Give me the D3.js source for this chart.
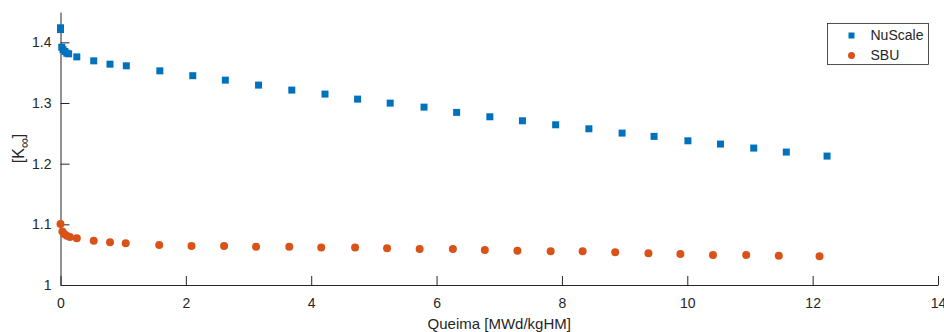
<!DOCTYPE html>
<html>
<head>
<meta charset="utf-8">
<script src="https://cdn.jsdelivr.net/npm/d3@7"></script>
<style>
    body { margin: 0; background: #fff; }
    svg { display: block; font-family: "Liberation Sans", Arial, sans-serif; }
</style>
</head>
<body>
<div id="chart"></div>
<script>
    // burnup [MWd/kgHM] and k-infinity for each model
    var nuscaleBurnup = [0, 0, 0.02, 0.04, 0.07, 0.10, 0.13, 0.26, 0.53, 0.79, 1.05, 1.585, 2.11, 2.63, 3.16, 3.69,
        4.22, 4.74, 5.26, 5.80, 6.32, 6.85, 7.37, 7.90, 8.43, 8.96, 9.47, 10.01, 10.53, 11.06, 11.58, 12.23];
    var nuscaleKinf = [1.424, 1.421, 1.392, 1.388, 1.385, 1.382, 1.381, 1.376, 1.3695, 1.364, 1.3613, 1.353, 1.345, 1.3377, 1.3295, 1.3213,
        1.3147, 1.3064, 1.2998, 1.2932, 1.2845, 1.2773, 1.2707, 1.2641, 1.2575, 1.2504, 1.245, 1.2377, 1.2323, 1.2257, 1.2191, 1.2125];
    var sbuBurnup = [0, 0.03, 0.06, 0.10, 0.15, 0.26, 0.53, 0.79, 1.04, 1.575, 2.09, 2.61, 3.12, 3.65,
        4.16, 4.70, 5.21, 5.73, 6.26, 6.77, 7.29, 7.82, 8.33, 8.85, 9.38, 9.89, 10.41, 10.94, 11.46, 12.11];
    var sbuKinf = [1.1005, 1.088, 1.084, 1.081, 1.079, 1.077, 1.073, 1.0703, 1.0687, 1.0659, 1.0643, 1.0643, 1.0631, 1.0631,
        1.062, 1.062, 1.0604, 1.0593, 1.0593, 1.0577, 1.0565, 1.0555, 1.0555, 1.0539, 1.0522, 1.0511, 1.0494, 1.0494, 1.0483, 1.0473];

    var seriesNames = ["NuScale", "SBU"];
    var xTicks = [0, 2, 4, 6, 8, 10, 12, 14];
    var yTicks = [1, 1.1, 1.2, 1.3, 1.4];

    var width = 944, height = 332;
    var margin = {top: 12, right: 6, bottom: 47, left: 60.5};
    var axisColor = "#262626";
    var colors = ["#0072BD", "#D95319"];

    var x = d3.scaleLinear().domain([0, 14]).range([margin.left, width - margin.right]);
    var y = d3.scaleLinear().domain([1, 1.45]).range([height - margin.bottom, margin.top]);

    var svg = d3.select("#chart").append("svg")
        .attr("width", width)
        .attr("height", height);

    // x axis, ticks pointing inward
    var xAxis = svg.append("g")
        .attr("transform", "translate(0," + y(1) + ")")
        .call(d3.axisBottom(x).tickValues(xTicks).tickFormat(d3.format("d")).tickSizeInner(-9).tickSizeOuter(0).tickPadding(13));
    xAxis.select(".domain").attr("stroke", axisColor);
    xAxis.selectAll("line").attr("stroke", axisColor);
    xAxis.selectAll("text").attr("fill", axisColor).style("font-size", "14px");

    var yAxis = svg.append("g")
        .attr("transform", "translate(" + margin.left + ",0)")
        .call(d3.axisLeft(y).tickValues(yTicks).tickFormat(d => d === 1 ? "1" : d3.format(".1f")(d)).tickSizeInner(-9).tickSizeOuter(0).tickPadding(9));
    yAxis.select(".domain").attr("stroke", axisColor);
    yAxis.selectAll("line").attr("stroke", axisColor);
    yAxis.selectAll("text").attr("fill", axisColor).style("font-size", "14px");

    // axis titles
    svg.append("text")
        .attr("x", (x(0) + x(14)) / 2)
        .attr("y", 329)
        .attr("text-anchor", "middle")
        .attr("fill", axisColor)
        .style("font-size", "15px")
        .text("Queima [MWd/kgHM]");

    var ylab = svg.append("text")
        .attr("transform", "translate(24," + ((y(1) + y(1.45)) / 2) + ") rotate(-90)")
        .attr("text-anchor", "middle")
        .attr("fill", axisColor)
        .style("font-size", "16px");
    ylab.append("tspan").text("[K");
    ylab.append("tspan").attr("dy", 5).style("font-size", "14px").text("\u221E");
    ylab.append("tspan").attr("dy", -5).text("]");

    // markers
    var nuscale = nuscaleBurnup.map((b, i) => ({b: b, k: nuscaleKinf[i]}));
    var sbu = sbuBurnup.map((b, i) => ({b: b, k: sbuKinf[i]}));
    var sq = 7;

    svg.append("g").selectAll("rect")
        .data(nuscale)
        .enter().append("rect")
        .attr("x", d => x(d.b) - sq / 2)
        .attr("y", d => y(d.k) - sq / 2)
        .attr("width", sq)
        .attr("height", sq)
        .attr("fill", colors[0]);

    svg.append("g").selectAll("circle")
        .data(sbu)
        .enter().append("circle")
        .attr("cx", d => x(d.b))
        .attr("cy", d => y(d.k))
        .attr("r", 4)
        .attr("fill", colors[1]);

    // legend
    var legend = svg.append("g").attr("transform", "translate(827.5,23.5)");
    legend.append("rect")
        .attr("width", 101)
        .attr("height", 41)
        .attr("fill", "#fff")
        .attr("stroke", axisColor)
        .attr("stroke-width", 0.8);
    legend.append("rect")
        .attr("x", 21)
        .attr("y", 9)
        .attr("width", 6)
        .attr("height", 6)
        .attr("fill", colors[0]);
    legend.append("circle")
        .attr("cx", 24)
        .attr("cy", 32)
        .attr("r", 3.5)
        .attr("fill", colors[1]);
    legend.selectAll(".lbl")
        .data(seriesNames)
        .enter().append("text")
        .attr("class", "lbl")
        .attr("x", 43)
        .attr("y", (d, i) => 12 + i * 20)
        .attr("dy", "0.35em")
        .attr("fill", axisColor)
        .style("font-size", "14px")
        .text(d => d);
</script>
</body>
</html>
